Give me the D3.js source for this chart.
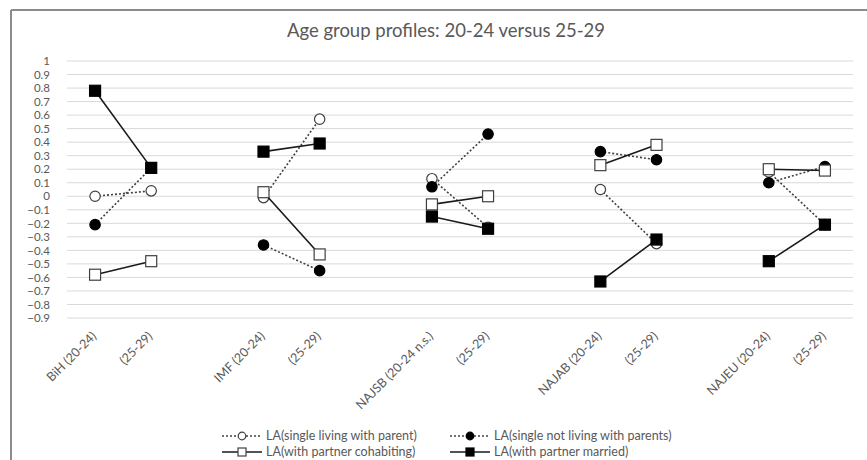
<!DOCTYPE html>
<html><head><meta charset="utf-8">
<script src="https://cdn.jsdelivr.net/npm/d3@7"></script>
<style>body{margin:0;background:#fff;} svg{display:block;font-family:Lato,"Open Sans",sans-serif;}</style>
</head><body>
<svg id="c" width="867" height="460"></svg>
<script>
const categories = ["BiH (20-24)","(25-29)","","IMF (20-24)","(25-29)","","NAJSB (20-24 n.s.)","(25-29)","","NAJAB (20-24)","(25-29)","","NAJEU (20-24)","(25-29)"];
const singleWithParent    = [0, 0.04, null, -0.01, 0.57, null, 0.13, -0.23, null, 0.05, -0.35, null, 0.18, -0.21];
const singleNotWithParent = [-0.21, 0.21, null, -0.36, -0.55, null, 0.07, 0.46, null, 0.33, 0.27, null, 0.10, 0.22];
const partnerCohabiting   = [-0.58, -0.48, null, 0.03, -0.43, null, -0.06, 0.00, null, 0.23, 0.38, null, 0.20, 0.19];
const partnerMarried      = [0.78, 0.21, null, 0.33, 0.39, null, -0.15, -0.24, null, -0.63, -0.32, null, -0.48, -0.21];
const yTicks = [1,0.9,0.8,0.7,0.6,0.5,0.4,0.3,0.2,0.1,0,-0.1,-0.2,-0.3,-0.4,-0.5,-0.6,-0.7,-0.8,-0.9];
const seriesNames = ["LA(single living with parent)","LA(single not living with parents)","LA(with partner cohabiting)","LA(with partner married)"];
const title = "Age group profiles: 20-24 versus 25-29";

const series = [
  {name:seriesNames[0], values:singleWithParent, dash:"2,2", shape:"circle", fill:"#fff"},
  {name:seriesNames[1], values:singleNotWithParent, dash:"2,2", shape:"circle", fill:"#000"},
  {name:seriesNames[2], values:partnerCohabiting, dash:null, shape:"square", fill:"#fff"},
  {name:seriesNames[3], values:partnerMarried, dash:null, shape:"square", fill:"#000"}
];

const svg = d3.select("#c");
const L=67, R=853, T=61, B=318;
const x = d3.scaleBand().domain(d3.range(categories.length)).range([L,R]);
const y = d3.scaleLinear().domain([-0.9,1]).range([B,T]);
const textCol = "#595959";

// frame
svg.append("line").attr("x1",11).attr("x2",867).attr("y1",10).attr("y2",10).attr("stroke","#8c8c8c").attr("stroke-width",2);
svg.append("line").attr("x1",11).attr("x2",11).attr("y1",10).attr("y2",460).attr("stroke","#8c8c8c").attr("stroke-width",2);

// title
svg.append("text").attr("x",446).attr("y",37).attr("text-anchor","middle").attr("fill",textCol)
  .style("font-size","18.5px").text(title);

// gridlines
svg.append("g").selectAll("line").data(yTicks).join("line")
  .attr("x1",L).attr("x2",R).attr("y1",d=>y(d)).attr("y2",d=>y(d))
  .attr("stroke","#d9d9d9").attr("stroke-width",1);

// y axis
const yAxis = svg.append("g").attr("transform",`translate(${L-14},0)`)
  .call(d3.axisLeft(y).tickValues(yTicks).tickSize(0).tickFormat(d=>d3.format("")(+d.toFixed(1))));
yAxis.select(".domain").remove();
yAxis.selectAll("text").attr("fill",textCol).style("font-size","11.5px").style("font-family","Lato");

// x axis labels
const xg = svg.append("g");
xg.selectAll("text").data(categories.map((c,i)=>({c,i})).filter(d=>d.c!=="")).join("text")
  .attr("transform",d=>`translate(${x(d.i)+x.bandwidth()/2+2},${B+19}) rotate(-45)`)
  .attr("text-anchor","end").attr("fill",textCol).style("font-size","12.5px").text(d=>d.c);

// series lines
const line = d3.line().defined(d=>d.v!==null).x(d=>x(d.i)+x.bandwidth()/2).y(d=>y(d.v));
series.forEach(s=>{
  const pts = s.values.map((v,i)=>({v,i}));
  const g = svg.append("g");
  g.append("path").attr("d",line(pts)).attr("fill","none")
    .attr("stroke", s.dash ? "#404040" : "#1a1a1a").attr("stroke-width",1.6)
    .attr("stroke-dasharray",s.dash);
  const P = pts.filter(d=>d.v!==null);
  if(s.shape==="circle"){
    g.selectAll("circle").data(P).join("circle")
      .attr("cx",d=>x(d.i)+x.bandwidth()/2).attr("cy",d=>y(d.v)).attr("r",5.2)
      .attr("fill",s.fill).attr("stroke",s.fill==="#fff"?"#404040":"#000").attr("stroke-width",1.2);
  } else {
    g.selectAll("rect").data(P).join("rect")
      .attr("x",d=>x(d.i)+x.bandwidth()/2-5.5).attr("y",d=>y(d.v)-5.5).attr("width",11).attr("height",11)
      .attr("fill",s.fill).attr("stroke",s.fill==="#fff"?"#404040":"#000").attr("stroke-width",1.2);
  }
});

// legend
const legPos = [[222,436],[450,436],[222,452],[450,452]];
series.forEach((s,k)=>{
  const [lx,ly] = legPos[k];
  const g = svg.append("g").attr("transform",`translate(${lx},${ly})`);
  g.append("line").attr("x1",0).attr("x2",40).attr("y1",0).attr("y2",0)
    .attr("stroke",s.dash?"#404040":"#1a1a1a").attr("stroke-width",1.6).attr("stroke-dasharray",s.dash);
  if(s.shape==="circle") g.append("circle").attr("cx",20).attr("cy",0).attr("r",3.8).attr("fill",s.fill).attr("stroke",s.fill==="#fff"?"#404040":"#000").attr("stroke-width",1.2);
  else g.append("rect").attr("x",16).attr("y",-4).attr("width",8).attr("height",8).attr("fill",s.fill).attr("stroke",s.fill==="#fff"?"#404040":"#000").attr("stroke-width",1.2);
  g.append("text").attr("x",44).attr("y",4).attr("fill",textCol).style("font-size","12.5px").text(s.name);
});
</script>
</body></html>
